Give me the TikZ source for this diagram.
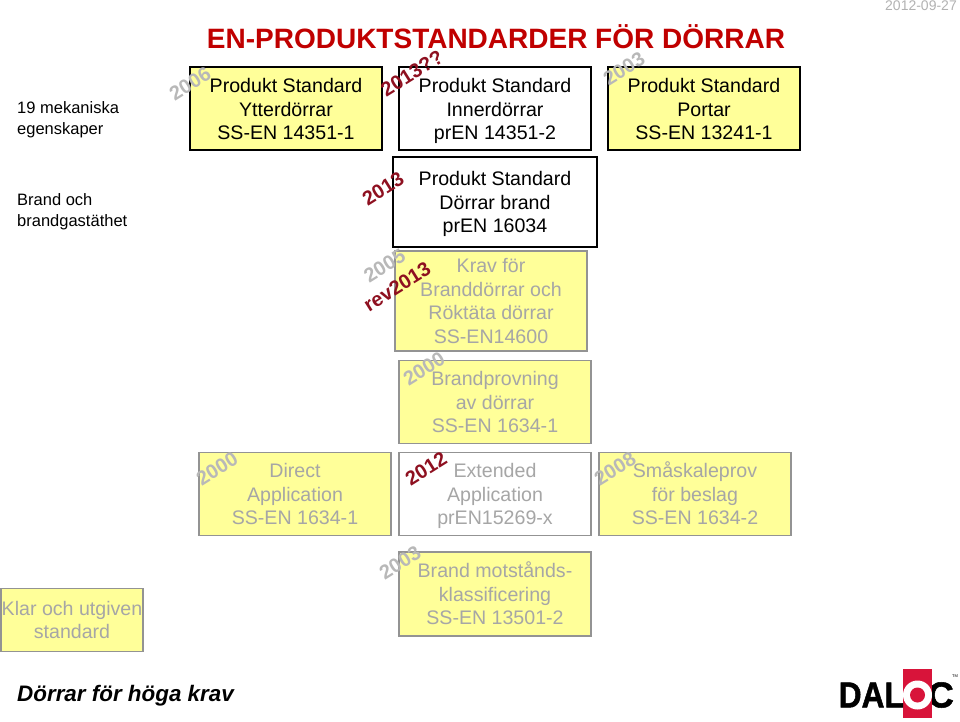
\documentclass[tikz,border=0pt]{standalone}
\usepackage{fontspec}
\setmainfont{Liberation Sans}
\newfontfamily\heavy[UprightFont=* Bold,FakeBold=1.5]{Liberation Sans}
\definecolor{boxy}{HTML}{FFFF99}
\definecolor{dred}{HTML}{C00000}
\definecolor{yr}{HTML}{B8B8B8}
\definecolor{rr}{HTML}{8E1020}
\definecolor{gt}{HTML}{A6A6A6}
\definecolor{logored}{HTML}{D8143A}
\tikzset{
  fs/.style={font=\fontsize{19.6}{23.5}\selectfont},
  stdbox/.style={draw=black,line width=2pt,align=center,fs,inner sep=0pt,text=black},
  filled/.style={stdbox,fill=boxy},
  greybox/.style={draw=gray!85,line width=1.6pt,fill=boxy,align=center,fs,inner sep=0pt,text=gt},
  whitegrey/.style={greybox,fill=white},
  yeargrey/.style={font=\bfseries\fontsize{20}{22}\selectfont,text=yr,rotate=32,inner sep=0pt},
  yearred/.style={font=\bfseries\fontsize{20}{22}\selectfont,text=rr,rotate=32,inner sep=0pt},
  side/.style={font=\fontsize{16.5}{20.5}\selectfont,align=left,inner sep=0pt,anchor=west},
}
\newcommand{\bx}[7]{\node[#1,minimum width=#4pt,minimum height=#5pt] (#6) at (#2pt,-#3pt) {\rule{0pt}{21.5pt}#7\strut};}
\begin{document}
\begin{tikzpicture}[x=1pt,y=1pt]
\useasboundingbox (0,0) rectangle (960,-722);
\node[font=\bfseries\fontsize{28}{30}\selectfont,text=dred,inner sep=0pt] (title) at (496,-37) {EN-PRODUKTSTANDARDER FÖR DÖRRAR};
\node[font=\fontsize{14}{15}\selectfont,text=gray!60,inner sep=0pt,anchor=east] (date) at (957,-6) {2012-09-27};
\node[side] (s1) at (17,-120) {\strut 19 mekaniska\\egenskaper\strut};
\node[side] (s2) at (17,-212) {\strut Brand och\\brandgastäthet\strut};
\bx{filled}{286}{109}{192}{83}{a}{Produkt Standard\\Ytterdörrar\\SS-EN 14351-1}
\bx{stdbox}{495}{109}{192}{83}{b}{Produkt Standard\\Innerdörrar\\prEN 14351-2}
\bx{filled}{704}{109}{192}{83}{c}{Produkt Standard\\Portar\\SS-EN 13241-1}
\bx{stdbox}{495}{202}{204}{90}{d}{Produkt Standard\\Dörrar brand\\prEN 16034}
\bx{greybox}{491}{301}{192}{100}{e}{Krav för\\Branddörrar och\\Röktäta dörrar\\SS-EN14600}
\bx{greybox}{495}{402}{192}{83}{f}{Brandprovning\\av dörrar\\SS-EN 1634-1}
\bx{greybox}{295}{494}{192}{83}{g}{Direct\\Application\\SS-EN 1634-1}
\bx{whitegrey}{495}{494}{192}{83}{h}{Extended\\Application\\prEN15269-x}
\bx{greybox}{695}{494}{192}{83}{i}{Småskaleprov\\för beslag\\SS-EN 1634-2}
\bx{greybox}{495}{594}{192}{84}{j}{Brand motstånds-\\klassificering\\SS-EN 13501-2}
\bx{greybox}{72}{620}{142}{63}{k}{Klar och utgiven\\standard}
\node[yeargrey] (y1) at (190,-84) {2006};
\node[yearred] (y2) at (412,-73) {2013??};
\node[yeargrey] (y3) at (624,-69) {2003};
\node[yearred] (y4) at (383,-189) {2013};
\node[yeargrey] (y5) at (384.5,-266) {2005};
\node[yearred] (y6) at (397,-287) {rev2013};
\node[yeargrey] (y7) at (424,-369) {2000};
\node[yeargrey] (y8) at (217,-469) {2000};
\node[yearred] (y9) at (426,-469) {2012};
\node[yeargrey] (y10) at (615,-469) {2008};
\node[yeargrey] (y11) at (400,-563) {2003};
\node[font=\bfseries\itshape\fontsize{22.4}{24}\selectfont,inner sep=0pt,anchor=west] (foot) at (17,-696) {Dörrar för höga krav};
% logo
\node[font=\heavy\fontsize{36}{40}\selectfont,inner sep=0pt,anchor=east] (logoc) at (954,-695) {C};
\fill[logored] (903,-669) rectangle (932,-718);
\fill[white] (917.5,-695) circle (14.5);
\fill[logored] (917.5,-695) circle (7.5);
\node[font=\heavy\fontsize{36}{40}\selectfont,inner sep=0pt,anchor=east,xscale=.88] (dal) at (904,-695) {DAL};
\node[font=\fontsize{4}{4}\selectfont,inner sep=0pt] (tm) at (955,-676) {TM};
\end{tikzpicture}
\end{document}
